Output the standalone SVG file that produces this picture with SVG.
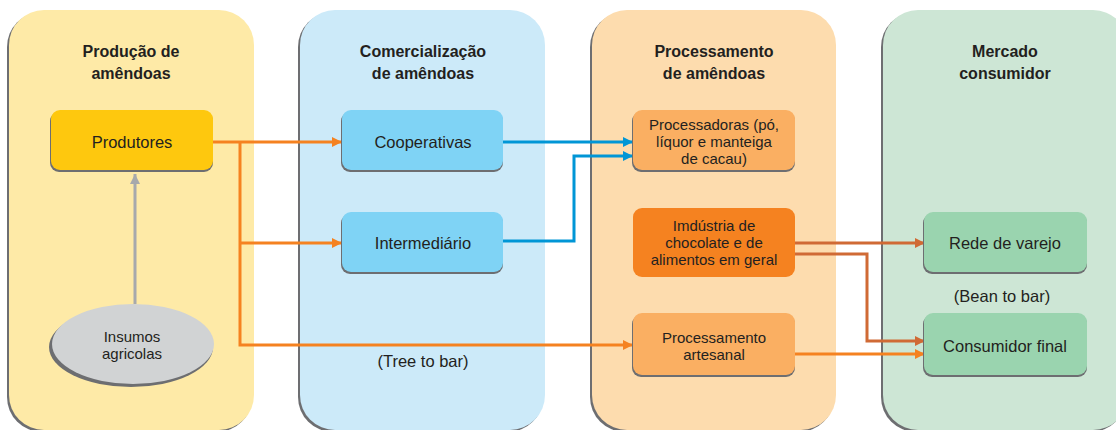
<svg xmlns="http://www.w3.org/2000/svg" width="1116" height="430" viewBox="0 0 1116 430">
<defs>
<style>
.t{font-family:"Liberation Sans",Arial,sans-serif;font-size:16.5px;fill:#231F20;text-anchor:middle}
.m{font-size:15px}
.h{font-family:"Liberation Sans",Arial,sans-serif;font-size:16px;font-weight:bold;fill:#231F20;text-anchor:middle}
.sh{fill:#6D6E71}
.ln{fill:none;stroke-width:3}
.or{stroke:#F58220}
.bl{stroke:#0096D6}
.br{stroke:#D06A35}
.gr{stroke:#A7A9AC}
</style>
<marker id="aO" markerUnits="userSpaceOnUse" markerWidth="11" markerHeight="11" refX="10" refY="5" orient="auto"><path d="M0,0 L10,5 L0,10 z" fill="#F58220"/></marker>
<marker id="aB" markerUnits="userSpaceOnUse" markerWidth="11" markerHeight="11" refX="10" refY="5" orient="auto"><path d="M0,0 L10,5 L0,10 z" fill="#0096D6"/></marker>
<marker id="aR" markerUnits="userSpaceOnUse" markerWidth="11" markerHeight="11" refX="10" refY="5" orient="auto"><path d="M0,0 L10,5 L0,10 z" fill="#D06A35"/></marker>
<marker id="aG" markerUnits="userSpaceOnUse" markerWidth="11" markerHeight="11" refX="10" refY="5" orient="auto"><path d="M0,0 L10,5 L0,10 z" fill="#A7A9AC"/></marker>
</defs>
<rect width="1116" height="430" fill="#FFFFFF"/>

<g id="panel-producao">
<rect class="sh" x="7" y="12" width="245" height="420" rx="35"/>
<rect x="9" y="10" width="245" height="420" rx="35" fill="#FEEAA7"/>
<text class="h" x="131" y="57">Produção de</text>
<text class="h" x="131" y="79">amêndoas</text>
</g>
<g id="panel-comercializacao">
<rect class="sh" x="298" y="12" width="245" height="420" rx="35"/>
<rect x="300" y="10" width="245" height="420" rx="35" fill="#CCEAF9"/>
<text class="h" x="423" y="57">Comercialização</text>
<text class="h" x="423" y="79">de amêndoas</text>
</g>
<g id="panel-processamento">
<rect class="sh" x="590" y="12" width="244" height="420" rx="35"/>
<rect x="592" y="10" width="244" height="420" rx="35" fill="#FDDCAE"/>
<text class="h" x="714" y="57">Processamento</text>
<text class="h" x="714" y="79">de amêndoas</text>
</g>
<g id="panel-mercado">
<rect class="sh" x="881" y="12" width="245" height="420" rx="35"/>
<rect x="883" y="10" width="245" height="420" rx="35" fill="#CDE6D5"/>
<text class="h" x="1005" y="57">Mercado</text>
<text class="h" x="1005" y="79">consumidor</text>
</g>

<g id="connectors">
<path class="ln gr" d="M135,304 L135,174" marker-end="url(#aG)"/>
<path class="ln or" d="M213,142 L342,142" marker-end="url(#aO)"/>
<path class="ln or" d="M240,142 L240,345 L633,345" marker-end="url(#aO)"/>
<path class="ln or" d="M240,243 L342,243" marker-end="url(#aO)"/>
<path class="ln bl" d="M503,142 L633,142" marker-end="url(#aB)"/>
<path class="ln bl" d="M503,241 L574,241 L574,156 L633,156" marker-end="url(#aB)"/>
<path class="ln br" d="M795,243 L925,243" marker-end="url(#aR)"/>
<path class="ln br" d="M795,254 L867,254 L867,341 L925,341" marker-end="url(#aR)"/>
<path class="ln or" d="M795,354 L925,354" marker-end="url(#aO)"/>
</g>

<g id="produtores">
<rect class="sh" x="50" y="112" width="163" height="60" rx="9"/>
<rect x="51" y="110" width="162" height="60" rx="9" fill="#FEC80E"/>
<text class="t" x="132" y="148">Produtores</text>
</g>
<g id="insumos">
<ellipse class="sh" cx="131" cy="347" rx="82" ry="40"/>
<ellipse cx="133" cy="344" rx="81" ry="40" fill="#D1D3D4"/>
<text class="t m" x="132" y="342">Insumos</text>
<text class="t m" x="132" y="359">agricolas</text>
</g>
<g id="cooperativas">
<rect class="sh" x="341" y="112" width="162" height="60" rx="9"/>
<rect x="342" y="110" width="161" height="60" rx="9" fill="#7FD3F5"/>
<text class="t" x="423" y="148">Cooperativas</text>
</g>
<g id="intermediario">
<rect class="sh" x="341" y="214" width="162" height="60" rx="9"/>
<rect x="342" y="212" width="161" height="60" rx="9" fill="#7FD3F5"/>
<text class="t" x="423" y="249">Intermediário</text>
</g>
<text class="t" x="423" y="367">(Tree to bar)</text>
<g id="processadoras">
<rect class="sh" x="632" y="112" width="163" height="60" rx="9"/>
<rect x="633" y="110" width="162" height="60" rx="9" fill="#FAAF62"/>
<text class="t m" x="714" y="129.5">Processadoras (pó,</text>
<text class="t m" x="714" y="146.5">líquor e manteiga</text>
<text class="t m" x="714" y="163.5">de cacau)</text>
</g>
<g id="industria">
<rect x="633" y="208" width="162" height="69" rx="9" fill="#F58220"/>
<text class="t m" x="714" y="230.5">Imdústria de</text>
<text class="t m" x="714" y="247.5">chocolate e de</text>
<text class="t m" x="714" y="264.5">alimentos em geral</text>
</g>
<g id="artesanal">
<rect class="sh" x="632" y="315" width="163" height="62" rx="9"/>
<rect x="633" y="313" width="162" height="62" rx="9" fill="#FAAF62"/>
<text class="t m" x="714" y="342.5">Processamento</text>
<text class="t m" x="714" y="359.5">artesanal</text>
</g>
<g id="rede">
<rect class="sh" x="923" y="214" width="164" height="60" rx="9"/>
<rect x="924" y="212" width="163" height="60" rx="9" fill="#9AD4AF"/>
<text class="t" x="1005" y="249">Rede de varejo</text>
</g>
<text class="t" x="1002" y="302">(Bean to bar)</text>
<g id="consumidor">
<rect class="sh" x="923" y="315" width="164" height="62" rx="9"/>
<rect x="924" y="313" width="163" height="62" rx="9" fill="#9AD4AF"/>
<text class="t" x="1005" y="352">Consumidor final</text>
</g>
</svg>
